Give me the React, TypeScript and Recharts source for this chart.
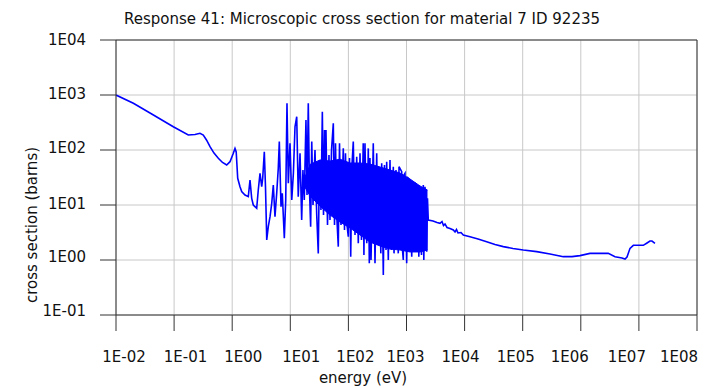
import React from "react";
import {
  ComposedChart,
  Line,
  Area,
  XAxis,
  YAxis,
  CartesianGrid,
  ReferenceLine,
} from "recharts";

// ---- data: U-235 (ID 92235) microscopic cross section, energy in eV, sigma in barns ----

// thermal range, smooth 1/v fall-off with the 0.3 eV and 1.1 eV humps
const thermalEnergy = [
  0.01, 0.0199, 0.0385, 0.0969, 0.1755, 0.229, 0.279, 0.318, 0.361, 0.415, 0.486,
  0.577, 0.681, 0.804, 0.917, 1.045, 1.117, 1.172,
];
const thermalSigma = [
  1000, 706, 471, 265, 187, 191, 201, 187, 152, 115, 88, 70.7, 59.3, 53.4, 61.3,
  87.1, 107, 92,
];

// first resolved resonances, 1.2 eV to 14 eV
const resolvedEnergy = [
  1.244, 1.362, 1.457, 1.66, 1.893, 2.025, 2.166, 2.307, 2.64, 2.81, 3.01, 3.22,
  3.35, 3.57, 3.74, 3.93, 4.18, 4.48, 4.79, 5.1, 5.45, 5.83, 6.21, 6.47, 6.92, 7.28,
  7.89, 8.34, 8.77, 9.24, 9.88, 10.6, 11.3, 12.05, 12.9, 13.7,
];
const resolvedSigma = [
  30.6, 21.5, 17.5, 15.2, 14.2, 28.5, 13.2, 10, 8.71, 18.7, 37.7, 21.5, 30.6, 93.1,
  21.5, 2.31, 4.03, 6.13, 10.7, 23.1, 6.13, 16.3, 46.5, 142, 9.31, 16.3, 2.48, 12.3,
  706, 24.8, 132, 12.3, 37.7, 265, 403, 14.2,
];

// dense resonance region, 14 eV to 2.4 keV (peaks and troughs)
const denseEnergy = [
  14.7, 15.7, 16.5, 17.4, 18.6, 19.4, 20.4, 21.4, 22.4, 23.4, 24.6, 26.6, 28.5, 30.3,
  31.8, 33.7, 35.6, 37.3, 38.8, 40.0, 41.1, 43.7, 46.3, 48.2, 51.2, 55.0, 57.7, 60.0,
  62.9, 67.0, 70.3, 74.6, 81.7, 85.7, 89.1, 94.6, 99.6, 104.5, 109.6, 115.3, 121.4,
  130, 139, 148, 158.5, 168, 180, 185, 193, 207, 220, 229, 235, 245, 268, 287, 307,
  323, 350, 361, 374, 399, 418, 444, 456, 486, 520, 552, 593, 610, 659, 722, 743,
  827, 853, 881, 906, 942, 1007, 1062, 1148, 1230, 1294, 1400, 1486, 1596, 1629,
  1708, 1812, 1946, 1986, 2080, 2228, 2297, 2372,
];
const denseSigma = [
  87.1, 5.34, 43.3, 12.3, 351, 15.2, 706, 18.7, 4.03, 142, 10, 100, 6.58, 1.32,
  65.8, 8.11, 497, 6.58, 231, 12.3, 231, 4.33, 81.1, 5.34, 100, 306, 4.33, 132,
  6.58, 1.75, 132, 4.33, 107, 3.51, 87.1, 4.33, 2.65, 71.6, 1.15, 53.4, 142,
  2.85, 75.5, 2.01, 87.1, 2.31, 132, 1.23, 132, 2.01, 107, 0.871, 71.6, 1.0, 132, 0.871, 87.1,
  1.87, 43.3, 1.32, 57.3, 0.534, 53.4, 1.52, 61.3, 1.0, 65.8, 1.52, 49.7, 1.32, 43.3, 1.32, 49.7,
  40.3, 1.52, 1.0, 35.1, 37.7, 0.871, 31.0, 28.5, 1.15, 25.1, 24.8, 1.4, 23.1, 1.15,
  20.4, 1.23, 23.1, 1.0, 21.5, 1.42, 13.2, 5.34,
];

// solid core of the dense region: lower and upper edge
const coreEnergy = [17.4, 22.0, 32.6, 48.2, 71.6, 107, 158.5, 235, 350, 520, 773, 1148, 1708, 2297];
const coreLow = [22.0, 14.5, 9.5, 6.58, 4.91, 3.82, 2.85, 2.12, 1.8, 1.58, 1.52, 1.4, 1.4, 1.52];
const coreHigh = [30.0, 55.0, 66.0, 63.0, 68.0, 58.0, 58.0, 55.6, 49.1, 43.3, 38.2, 29.7, 22.2, 18.7];

// smooth fast range, 2.9 keV to 19 MeV
const fastEnergy = [
  2858, 3350, 3776, 4083, 4335, 4603, 4978, 5610, 6393, 6840, 7256, 7700, 8670, 9506,
  12380, 17020, 23990, 33370, 46340, 68080, 102400, 174200, 295100, 500000, 706000,
  968000, 1.44e6, 2.97e6, 3.88e6, 5.12e6, 5.77e6, 6.24e6, 7.03e6, 8.02e6, 1.19e7,
  1.38e7, 1.55e7, 1.68e7, 1.89e7,
];
const fastSigma = [
  5.12, 4.81, 4.65, 5.01, 4.24, 4.52, 3.9, 3.74, 3.51, 3.23, 3.59, 3.1, 3.16, 2.85,
  2.65, 2.41, 2.15, 1.91, 1.75, 1.62, 1.52, 1.42, 1.29, 1.15, 1.15, 1.2, 1.32, 1.32,
  1.15, 1.09, 1.04, 1.13, 1.63, 1.85, 1.85, 2.04, 2.21, 2.21, 2.01,
];

const xTicks = [1e-2, 1e-1, 1e0, 1e1, 1e2, 1e3, 1e4, 1e5, 1e6, 1e7, 1e8];
const xTickLabels = ["1E-02", "1E-01", "1E00", "1E01", "1E02", "1E03", "1E04", "1E05", "1E06", "1E07", "1E08"];
const yTicks = [1e-1, 1e0, 1e1, 1e2, 1e3, 1e4];
const yTickLabels = ["1E-01", "1E00", "1E01", "1E02", "1E03", "1E04"];

const titleText = "Response 41: Microscopic cross section for material 7 ID 92235";
const xTitle = "energy (eV)";
const yTitle = "cross section (barns)";

// ---- tables built from the arrays ----
const traceEnergy = [...thermalEnergy, ...resolvedEnergy, ...denseEnergy, ...fastEnergy];
const traceSigma = [...thermalSigma, ...resolvedSigma, ...denseSigma, ...fastSigma];
const trace = traceEnergy.map((e, i) => ({ e, xs: traceSigma[i] }));
const core = coreEnergy.map((e, i) => ({ e, band: [coreLow[i], coreHigh[i]] }));

// ---- styling ----
const FONT = "'DejaVu Sans', Verdana, sans-serif";
const FONT_SIZE = 15;
const AXIS = "#333333";
const GRID = "#c8c8c8";
const BLUE = "#0000ff";
const TEXT = "#111111";

const W = 700;
const H = 380;

// label nudges of the original plotting program
const xLabelShift = [8, 11.5, 11, 11, 7, -1, -4, -7, -11, -12, -18];
const yLabelBaseline = [1, 1.7, 3.7, 2.7, 4.3, 5];

const XTick = (props: any) => {
  const { x, payload } = props;
  const i = xTicks.indexOf(payload.value);
  return (
    <text
      x={x + (xLabelShift[i] ?? 0)}
      y={353.5}
      textAnchor="middle"
      fontFamily={FONT}
      fontSize={FONT_SIZE}
      fill={TEXT}
    >
      {xTickLabels[i]}
    </text>
  );
};

const YTick = (props: any) => {
  const { y, payload } = props;
  const i = yTicks.indexOf(payload.value);
  return (
    <text
      x={78}
      y={y + (yLabelBaseline[i] ?? 3)}
      textAnchor="end"
      fontFamily={FONT}
      fontSize={FONT_SIZE}
      fill={TEXT}
    >
      {yTickLabels[i]}
    </text>
  );
};

export default function App() {
  return (
    <div style={{ position: "relative", width: W, height: H }}>
      <ComposedChart
        width={W}
        height={H}
        margin={{ top: 32, right: 11, bottom: 0, left: 0 }}
      >
        <CartesianGrid stroke={GRID} strokeWidth={1} />
        <XAxis
          dataKey="e"
          type="number"
          scale="log"
          domain={[1e-2, 1e8]}
          ticks={xTicks}
          interval={0}
          allowDataOverflow
          height={73}
          tickSize={16}
          axisLine={{ stroke: AXIS }}
          tickLine={{ stroke: AXIS }}
          tick={<XTick />}
        />
        <YAxis
          type="number"
          scale="log"
          domain={[1e-1, 1e4]}
          ticks={yTicks}
          interval={0}
          allowDataOverflow
          width={108}
          tickSize={16}
          axisLine={{ stroke: AXIS }}
          tickLine={{ stroke: AXIS }}
          tick={<YTick />}
        />
        <Area
          data={core}
          dataKey="band"
          type="linear"
          stroke={BLUE}
          strokeWidth={1}
          fill={BLUE}
          fillOpacity={1}
          isAnimationActive={false}
          dot={false}
          activeDot={false}
        />
        <Line
          data={trace}
          dataKey="xs"
          type="linear"
          stroke={BLUE}
          strokeWidth={1.6}
          dot={false}
          activeDot={false}
          isAnimationActive={false}
        />
        <ReferenceLine y={1e4} stroke={AXIS} strokeWidth={1} />
        <ReferenceLine x={1e8} stroke={AXIS} strokeWidth={1} />
      </ComposedChart>
      <svg
        width={W}
        height={H}
        style={{ position: "absolute", left: 0, top: 0, pointerEvents: "none" }}
      >
        <text x={354} y={16} textAnchor="middle" fontFamily={FONT} fontSize={FONT_SIZE} fill={TEXT}>
          {titleText}
        </text>
        <text x={355} y={375} textAnchor="middle" fontFamily={FONT} fontSize={FONT_SIZE} fill={TEXT}>
          {xTitle}
        </text>
        <text
          x={29}
          y={217}
          textAnchor="middle"
          transform="rotate(-90 29 217)"
          fontFamily={FONT}
          fontSize={FONT_SIZE}
          fill={TEXT}
        >
          {yTitle}
        </text>
      </svg>
    </div>
  );
}
